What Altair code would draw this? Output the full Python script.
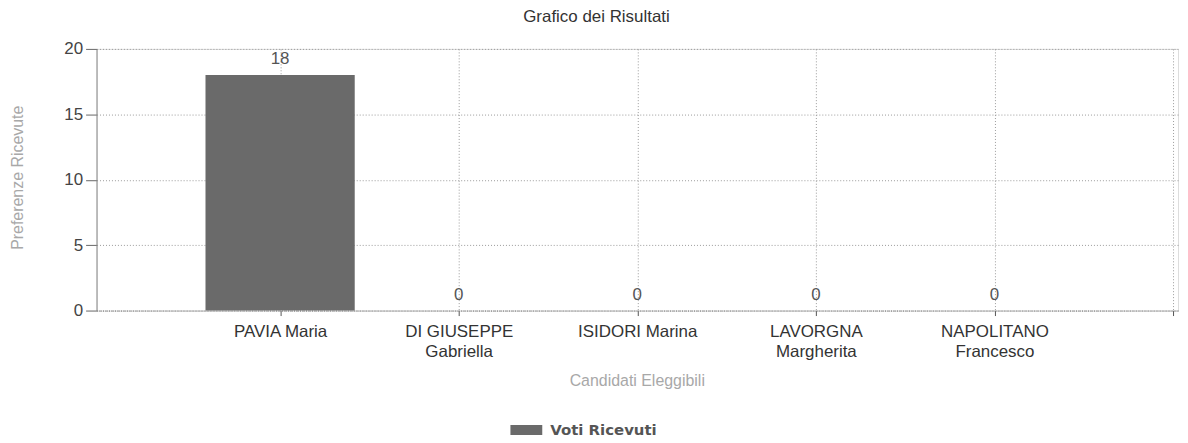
import json
import altair as alt
import pandas as pd

candidati = ["PAVIA Maria", "DI GIUSEPPE Gabriella", "ISIDORI Marina",
             "LAVORGNA Margherita", "NAPOLITANO Francesco"]
righe_etichetta = [["PAVIA Maria"], ["DI GIUSEPPE", "Gabriella"], ["ISIDORI Marina"],
                   ["LAVORGNA", "Margherita"], ["NAPOLITANO", "Francesco"]]
voti = [18, 0, 0, 0, 0]
y_ticks = [0, 5, 10, 15, 20]
serie = "Voti Ricevuti"

df = pd.DataFrame({
    "pos": list(range(len(candidati))),
    "candidato": candidati,
    "voti": voti,
    "serie": [serie] * len(candidati),
})

n = len(candidati)
label_expr = (f"datum.value >= 0 && datum.value < {n} ? "
              f"{json.dumps(righe_etichetta)}[datum.value] : ''")

FONT = "Liberation Sans"

x_enc = alt.X(
    "pos:Q",
    scale=alt.Scale(domain=[-1, n], nice=False, zero=False),
    axis=alt.Axis(
        values=list(range(n + 1)),
        labelExpr=label_expr,
        labelFont=FONT, labelFontSize=17, labelColor="#333",
        labelLineHeight=20, labelPadding=8,
        tickSize=5, tickColor="#555",
        domainColor="#888", domainDash=[1, 1],
        grid=True, gridColor="#9a9a9a", gridDash=[1, 2],
        title="Candidati Eleggibili",
        titleFont=FONT, titleFontSize=16, titleFontWeight="normal",
        titleColor="#a8a8a8", titleX=543, titleY=70,
        titleBaseline="middle", titleAlign="center",
    ),
)

y_enc = alt.Y(
    "voti:Q",
    scale=alt.Scale(domain=[0, 20], nice=False),
    axis=alt.Axis(
        values=y_ticks,
        labelFont=FONT, labelFontSize=17, labelColor="#444", labelPadding=3,
        tickSize=11, tickColor="#666",
        domainColor="#888",
        grid=True, gridColor="#9a9a9a", gridDash=[1, 2],
        title="Preferenze Ricevute",
        titleFont=FONT, titleFontSize=16, titleFontWeight="normal",
        titleColor="#a8a8a8", titleAngle=-90, titleX=-79, titleY=129,
        titleBaseline="middle", titleAlign="center",
    ),
)

bars = alt.Chart(df).mark_bar(size=150).encode(
    x=x_enc,
    y=y_enc,
    color=alt.Color(
        "serie:N",
        scale=alt.Scale(range=["#6a6a6a"]),
        legend=alt.Legend(
            title=None, orient="none", legendX=422, legendY=373,
            padding=0,
            symbolType="M-1.6,-0.5H1.6V0.5H-1.6Z", symbolSize=400,
            symbolStrokeWidth=0, symbolOpacity=1,
            labelFont="DejaVu Sans", labelFontSize=15, labelFontWeight="bold",
            labelColor="#555", labelOffset=14,
        ),
    ),
)

labels = alt.Chart(df).mark_text(
    baseline="alphabetic", dy=-11, font=FONT, fontSize=17, color="#555"
).encode(
    x="pos:Q",
    y="voti:Q",
    text="voti:Q",
)

chart = (bars + labels).properties(
    width=1087, height=263,
    title=alt.TitleParams(
        "Grafico dei Risultati", font=FONT, fontSize=17, fontWeight="normal",
        color="#333", anchor="middle", dx=-41, offset=14,
    ),
    autosize=alt.AutoSizeParams(type="none"),
    padding={"left": 89, "top": 40, "right": 2, "bottom": 132},
).configure_view(stroke=None).configure(background="white")

chart.save("out.html", embed_options={"renderer": "svg", "actions": False})
